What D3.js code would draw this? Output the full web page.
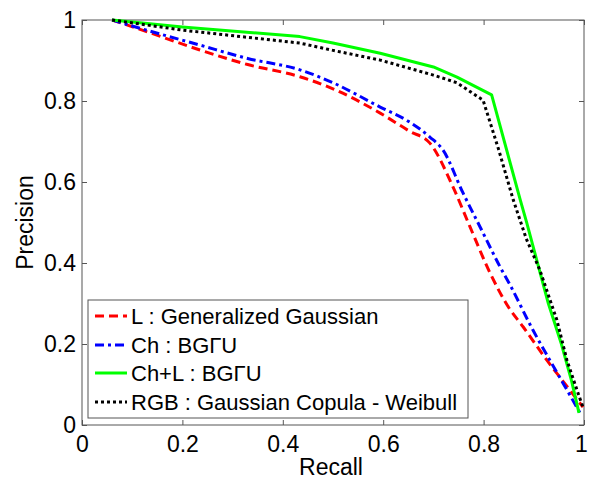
<!DOCTYPE html>
<html><head><meta charset="utf-8">
<script src="https://cdn.jsdelivr.net/npm/d3@7"></script>
<style>body{margin:0;background:#fff}svg{display:block}</style>
</head><body>
<svg id="c" width="589" height="479"></svg>
<script>
const xTicks = [0, 0.2, 0.4, 0.6, 0.8, 1];
const yTicks = [0, 0.2, 0.4, 0.6, 0.8, 1];
const seriesNames = ["L : Generalized Gaussian", "Ch : BGΓU", "Ch+L : BGΓU", "RGB : Gaussian Copula - Weibull"];
const redL = [[0.06,1],[0.12,0.975],[0.235,0.926],[0.33,0.89],[0.434,0.86],[0.5,0.83],[0.594,0.77],[0.653,0.725],[0.693,0.696],[0.739,0.588],[0.773,0.489],[0.813,0.375],[0.85,0.29],[0.879,0.242],[0.926,0.16],[0.972,0.086],[0.998,0.044]];
const blueCh = [[0.06,1],[0.12,0.978],[0.235,0.938],[0.33,0.905],[0.434,0.877],[0.5,0.845],[0.594,0.785],[0.65,0.75],[0.693,0.711],[0.719,0.679],[0.759,0.573],[0.793,0.489],[0.833,0.39],[0.853,0.345],[0.898,0.235],[0.932,0.16],[0.958,0.104],[0.992,0.03]];
const greenChL = [[0.06,1],[0.2,0.983],[0.434,0.959],[0.5,0.943],[0.594,0.918],[0.7,0.884],[0.747,0.859],[0.816,0.815],[0.873,0.556],[0.886,0.499],[0.929,0.3],[0.955,0.2],[0.975,0.11],[0.99,0.03]];
const blackRGB = [[0.06,1],[0.2,0.975],[0.434,0.943],[0.5,0.925],[0.594,0.901],[0.7,0.864],[0.747,0.845],[0.799,0.802],[0.83,0.68],[0.859,0.556],[0.885,0.46],[0.912,0.383],[0.946,0.259],[0.966,0.16],[0.988,0.079],[0.998,0.044]];

const series = [
  {name: seriesNames[0], data: redL, color: "#ff0000", dash: "9,5", curve: d3.curveMonotoneX},
  {name: seriesNames[1], data: blueCh, color: "#0000ff", dash: "9,4,3,4", curve: d3.curveMonotoneX},
  {name: seriesNames[2], data: greenChL, color: "#00ff00", dash: null, curve: d3.curveLinear},
  {name: seriesNames[3], data: blackRGB, color: "#000000", dash: "3,3", curve: d3.curveLinear}
];

const svg = d3.select("#c");
const m = {l: 82, r: 5, t: 20, b: 54};
const W = 589, H = 479;
const x = d3.scaleLinear().domain([0,1]).range([m.l, W - m.r]);
const y = d3.scaleLinear().domain([0,1]).range([H - m.b, m.t]);
const font = "Arial, 'Liberation Sans', sans-serif";
const axisColor = "#555";

svg.append("rect").attr("x", x(0)).attr("y", y(1)).attr("width", x(1)-x(0)).attr("height", y(0)-y(1))
  .attr("fill", "none").attr("stroke", axisColor).attr("stroke-width", 1);

const gx = svg.append("g").attr("transform", `translate(0,${y(0)})`)
  .call(d3.axisBottom(x).tickValues(xTicks).tickSize(-5).tickFormat(d3.format("")));
const gy = svg.append("g").attr("transform", `translate(${x(0)},0)`)
  .call(d3.axisLeft(y).tickValues(yTicks).tickSize(-5).tickFormat(d3.format("")));
svg.append("g").attr("transform", `translate(0,${y(1)})`).call(d3.axisTop(x).tickValues(xTicks).tickSize(-5).tickFormat(""));
svg.append("g").attr("transform", `translate(${x(1)},0)`).call(d3.axisRight(y).tickValues(yTicks).tickSize(-5).tickFormat(""));
svg.selectAll(".domain").attr("stroke", "none");
svg.selectAll(".tick line").attr("stroke", axisColor);
gx.selectAll("text").attr("font-family", font).attr("font-size", 23).attr("fill", "#000").attr("dy", "0.72em").attr("y", 10)
  .attr("dx", d => d === 1 ? -3 : 0);
gy.selectAll("text").attr("font-family", font).attr("font-size", 23).attr("fill", "#000").attr("x", -6);

series.forEach(s => {
  const line = d3.line().x(d => x(d[0])).y(d => y(d[1])).curve(s.curve);
  svg.append("path").datum(s.data).attr("d", line).attr("fill", "none")
    .attr("stroke", s.color).attr("stroke-width", 3)
    .attr("stroke-dasharray", s.dash).attr("stroke-linejoin", "round");
});

svg.append("text").attr("x", 331).attr("y", 475).attr("text-anchor", "middle")
  .attr("font-family", font).attr("font-size", 23).text("Recall");
svg.append("text").attr("transform", `translate(33,${(y(0)+y(1))/2}) rotate(-90)`).attr("text-anchor", "middle")
  .attr("font-family", font).attr("font-size", 23).text("Precision");

const lg = svg.append("g");
lg.append("rect").attr("x", 88).attr("y", 300).attr("width", 380).attr("height", 118)
  .attr("fill", "#fff").attr("stroke", axisColor).attr("stroke-width", 1);
const rowY = [316, 345, 373, 402];
series.forEach((s, i) => {
  lg.append("line").attr("x1", 95).attr("x2", 127).attr("y1", rowY[i]).attr("y2", rowY[i])
    .attr("stroke", s.color).attr("stroke-width", 3).attr("stroke-dasharray", s.dash);
  lg.append("text").attr("x", 131).attr("y", rowY[i]).attr("dy", "0.35em")
    .attr("font-family", font).attr("font-size", 22).text(s.name);
});
</script>
</body></html>
